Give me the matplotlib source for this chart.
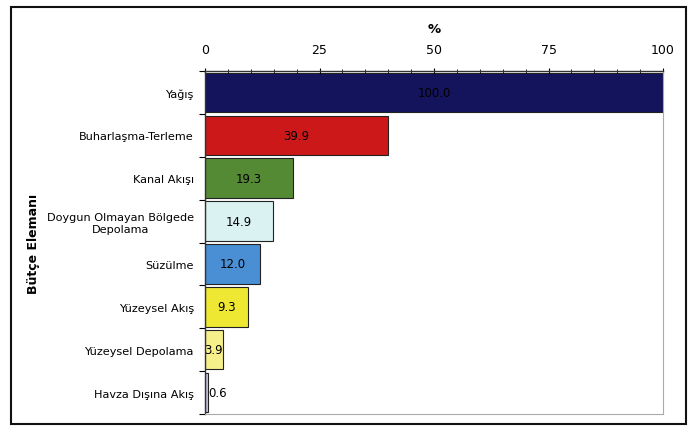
import matplotlib
matplotlib.use("Agg")
import matplotlib.pyplot as plt
from matplotlib.patches import Rectangle
from matplotlib.ticker import MultipleLocator, FixedLocator

# Bütçe elemanları ve yüzde değerleri
elemanlar = ["Yağış", "Buharlaşma-Terleme", "Kanal Akışı",
             "Doygun Olmayan Bölgede\nDepolama", "Süzülme",
             "Yüzeysel Akış", "Yüzeysel Depolama", "Havza Dışına Akış"]
yuzdeler = [100.0, 39.9, 19.3, 14.9, 12.0, 9.3, 3.9, 0.6]
renkler = ["#14145c", "#cc1818", "#548a34", "#daf2f2",
           "#4a8fd4", "#eee832", "#f6f08a", "#c9c2e0"]

plt.rcParams["font.family"] = ["DejaVu Sans"]

fig = plt.figure(figsize=(6.92, 4.27), dpi=100)
ax = fig.add_axes([205 / 692, 1 - 415 / 427, 458 / 692, 343 / 427])

y = list(range(len(elemanlar)))
ax.barh(y, yuzdeler, height=0.92, color=renkler,
        edgecolor="#222222", linewidth=0.8)

# Değer etiketleri: küçük çubuklarda etiket çubuğun sağına taşar
for yi, v in zip(y, yuzdeler):
    if v > 2:
        ax.text(v / 2, yi, f"{v:.1f}", ha="center", va="center",
                fontsize=8.5, color="black")
    else:
        ax.text(v + 0.2, yi, f"{v:.1f}", ha="left", va="center",
                fontsize=8.5, color="black")

ax.set_xlim(0, 100)
ax.set_ylim(len(elemanlar) - 0.5, -0.5)

ax.xaxis.tick_top()
ax.xaxis.set_label_position("top")
ax.xaxis.set_major_locator(MultipleLocator(25))
ax.xaxis.set_minor_locator(MultipleLocator(5))
ax.tick_params(axis="x", which="major", direction="inout", length=5,
               width=0.8, labelsize=9, pad=8)
ax.tick_params(axis="x", which="minor", direction="inout", length=3,
               width=0.6)
ax.set_xlabel("%", fontsize=9.5, fontweight="bold", labelpad=8)

ax.set_yticks(y)
ax.set_yticklabels(elemanlar, fontsize=8.1, ha="right")
ax.yaxis.set_minor_locator(FixedLocator([i - 0.5 for i in range(len(elemanlar) + 1)]))
ax.tick_params(axis="y", which="major", length=0, pad=8)
ax.tick_params(axis="y", which="minor", direction="out", length=4, width=0.8)
for lbl in ax.get_yticklabels():
    lbl.set_multialignment("center")
ax.set_ylabel("Bütçe Elemanı", fontsize=9, fontweight="bold")
ax.yaxis.set_label_coords(-0.36, 0.5)

for side in ["top", "left"]:
    ax.spines[side].set_color("#333333")
    ax.spines[side].set_linewidth(1.0)
for side in ["right", "bottom"]:
    ax.spines[side].set_color("#aaaaaa")
    ax.spines[side].set_linewidth(0.8)

# Dış çerçeve
fig.patches.append(Rectangle((11 / 692, 2 / 427), 675 / 692, 417 / 427,
                             transform=fig.transFigure, fill=False,
                             edgecolor="#111111", linewidth=1.5))

fig.savefig("out.png", dpi=100)
